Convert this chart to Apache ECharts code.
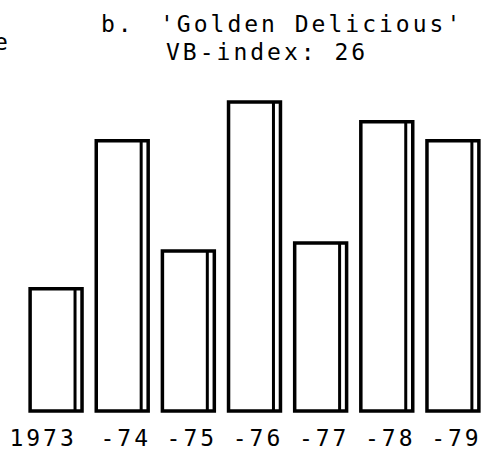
<!DOCTYPE html>
<html>
<head>
<meta charset="utf-8">
<script src="https://cdn.jsdelivr.net/npm/echarts@6/dist/echarts.min.js"></script>
<style>
  html, body { margin: 0; padding: 0; background: #fff; }
  #main { width: 486px; height: 449px; }
  /* old printer output: wide spaced monospace */
  #main text { letter-spacing: 3px; }
</style>
</head>
<body>
<div id="main"></div>
<script>
// VB-index data, 'Golden Delicious'
var years = ['1973', '-74', '-75', '-76', '-77', '-78', '-79']
var values = [12.3, 27.2, 16.1, 31.1, 16.9, 29.1, 27.2]

var titleHead = 'b.'
var titleName = "'Golden Delicious'"
var titleIndex = 'VB-index: 26'

var font = 'DejaVu Sans Mono'

var myChart = echarts.init(document.getElementById('main'), null, { renderer: 'svg' })

// open box with a thin strip along the right side, like the printed figure
function renderItem (params, api) {
  var top = api.coord([api.value(0), api.value(1)])
  var base = api.coord([api.value(0), 0])
  var w = api.size([1, 0])[0] * 0.785
  var left = top[0] - w / 2
  return {
    type: 'group',
    children: [
      {
        type: 'rect',
        shape: { x: left, y: top[1], width: w, height: base[1] - top[1] },
        style: { fill: 'none', stroke: '#000', lineWidth: 3.5 }
      },
      {
        type: 'line',
        shape: { x1: left + w - 7, y1: top[1], x2: left + w - 7, y2: base[1] },
        style: { stroke: '#000', lineWidth: 3 }
      }
    ]
  }
}

var titleStyle = { fontFamily: font, fontSize: 23, fontWeight: 'normal', color: '#000' }

var option = {
  animation: false,
  backgroundColor: '#fff',
  title: [
    { text: titleHead, left: 101, top: 12, padding: 0, textStyle: titleStyle },
    { text: titleName, left: 160, top: 12, padding: 0, textStyle: titleStyle },
    { text: titleIndex, left: 166, top: 40, padding: 0, textStyle: titleStyle }
  ],
  graphic: [
    // cut-off letter of the neighbouring panel
    { type: 'text', left: -6, top: 30, style: { text: 'e', font: '23px ' + font, fill: '#000' } }
  ],
  grid: {
    left: 23,
    right: -1,
    top: 93,
    bottom: 36
  },
  xAxis: {
    type: 'category',
    data: years.map(function (y, i) {
      // the first year label sits a bit left of its bar, the others a bit right
      return { value: y, textStyle: { padding: i === 0 ? [0, 26, 0, 0] : [0, 0, 0, 7] } }
    }),
    axisLine: { show: false },
    axisTick: { show: false },
    axisLabel: {
      interval: 0,
      margin: 15,
      color: '#000',
      fontFamily: font,
      fontSize: 23
    }
  },
  yAxis: {
    type: 'value',
    min: 0,
    max: 32,
    show: false
  },
  series: [
    {
      type: 'custom',
      renderItem: renderItem,
      encode: { x: 0, y: 1 },
      data: values.map(function (v, i) { return [i, v] })
    }
  ]
}

option && myChart.setOption(option)
</script>
</body>
</html>
